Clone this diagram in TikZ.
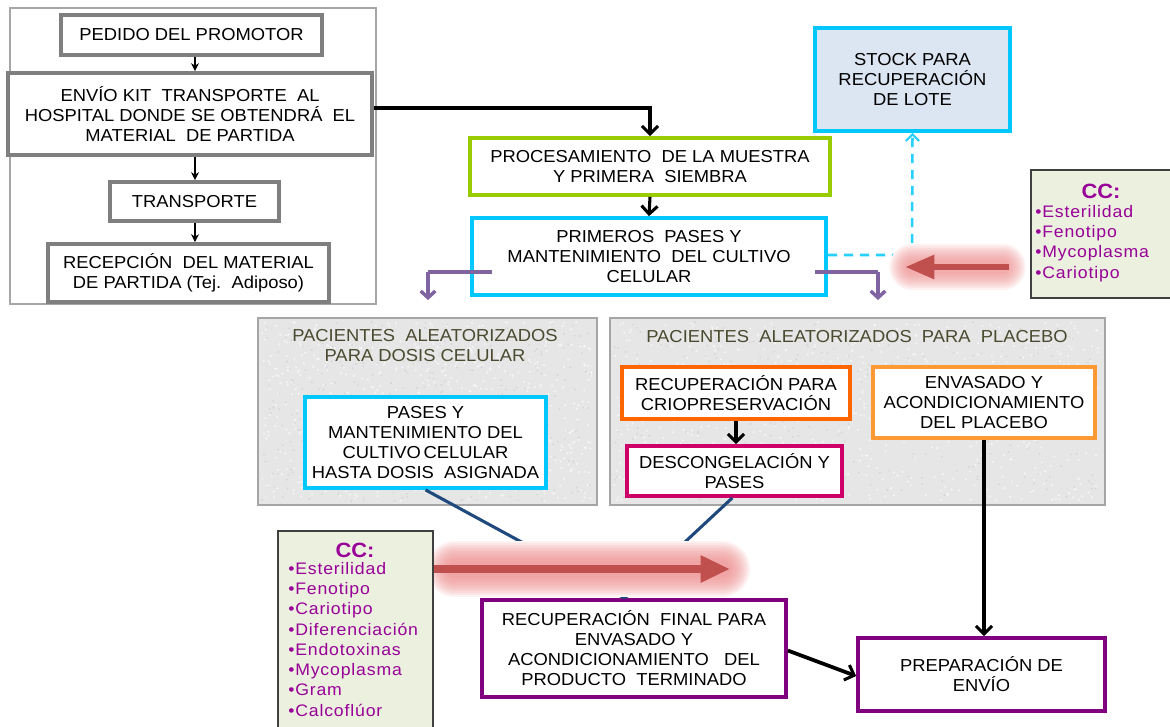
\documentclass[tikz,border=0pt]{standalone}
\usepackage{fontspec}
\setmainfont{Liberation Sans}[FakeStretch=1.06]
\usetikzlibrary{arrows.meta,calc}
\definecolor{boxgray}{HTML}{7F7F7F}
\definecolor{framegray}{HTML}{A6A6A6}
\definecolor{lgreen}{HTML}{99CC00}
\definecolor{cyanb}{HTML}{00C8FF}
\definecolor{stockfill}{HTML}{DCE6F2}
\definecolor{ccfill}{HTML}{EBF1DE}
\definecolor{ccpurple}{HTML}{990099}
\definecolor{panelfill}{HTML}{E6E6E6}
\definecolor{panelborder}{HTML}{A5A5A5}
\definecolor{titlecol}{HTML}{4A4A30}
\definecolor{orangeb}{HTML}{FF6600}
\definecolor{lorange}{HTML}{FF9933}
\definecolor{magentab}{HTML}{CC0066}
\definecolor{purpleb}{HTML}{800080}
\definecolor{bluel}{HTML}{1F497D}
\definecolor{purplel}{HTML}{8064A2}
\definecolor{redarrow}{HTML}{C0504D}
\definecolor{glowc}{HTML}{F08C8C}
\begin{document}
\begin{tikzpicture}[x=0.75pt,y=-0.75pt,
  every node/.style={font=\fontsize{13}{15}\selectfont, align=center, inner sep=0pt},
  sz/.style 2 args={minimum width=#1*0.75pt, minimum height=#2*0.75pt},
  box/.style={draw, line width=2.8pt, fill=white},
  graybox/.style={box, draw=boxgray},
  panel/.style={draw=panelborder, line width=2.2pt, fill=panelfill},
  ptitle/.style={text=titlecol},
  cctext/.style={text=ccpurple, align=left, font=\fontsize{12.5}{15.2}\selectfont\addfontfeature{LetterSpace=5}},
  cchead/.style={text=ccpurple, font=\fontsize{15.5}{17}\selectfont\bfseries},
  smallarr/.style={line width=1.2pt, -{Stealth[length=6pt,width=6pt]}},
  bigarr/.style={line width=2.3pt, -{Straight Barb[length=6pt,width=12pt,line width=2.3pt]}},
  purparr/.style={draw=purplel, line width=3pt},
  blueline/.style={draw=bluel, line width=2.3pt}
]
\useasboundingbox (0,0) rectangle (1170,726);
\fill[white] (0,0) rectangle (1170,726);

% left frame
\draw[framegray, line width=1.6pt] (10,8) rectangle (376,304);

% panels
\node[panel, sz={339}{187}] (pan1) at (427.5,411.5) {};
\node[panel, sz={495}{187}] (pan2) at (857.5,411.5) {};
\pgfmathsetseed{11}
\foreach \i in {1,...,700}{
  \pgfmathsetmacro\xx{262+331*rnd}
  \pgfmathsetmacro\yy{322+179*rnd}
  \fill[white, opacity=0.6] (\xx,\yy) circle (0.9pt);
  \pgfmathsetmacro\xa{614+487*rnd}
  \pgfmathsetmacro\ya{322+179*rnd}
  \fill[white, opacity=0.6] (\xa,\ya) circle (0.9pt);
}
\foreach \i in {1,...,350}{
  \pgfmathsetmacro\xx{262+331*rnd}
  \pgfmathsetmacro\yy{322+179*rnd}
  \fill[gray, opacity=0.18] (\xx,\yy) circle (0.7pt);
  \pgfmathsetmacro\xa{614+487*rnd}
  \pgfmathsetmacro\ya{322+179*rnd}
  \fill[gray, opacity=0.18] (\xa,\ya) circle (0.7pt);
}
\node[ptitle] (t1) at (425,346) {PACIENTES\ \ ALEATORIZADOS\\PARA DOSIS CELULAR};
\node[ptitle] (t2) at (857,337) {PACIENTES\ \ ALEATORIZADOS\ \ PARA\ \ PLACEBO};

% left column
\node[graybox, sz={261}{40}] (pedido) at (191.5,35) {PEDIDO DEL PROMOTOR};
\node[graybox, sz={364}{82}] (envio) at (190,114) {ENVÍO KIT\ \ TRANSPORTE\ \ AL\\HOSPITAL DONDE SE OBTENDRÁ\ \ EL\\MATERIAL\ \ DE PARTIDA};
\node[graybox, sz={169}{39}] (transp) at (194.5,201.5) {TRANSPORTE};
\node[graybox, sz={281}{58}] (recep) at (188.5,273) {RECEPCIÓN\ \ DEL MATERIAL\\DE PARTIDA (Tej.\ \ Adiposo)};

\draw[smallarr] (pedido.south -| 195,0) -- (envio.north -| 195,0);
\draw[smallarr] (envio.south -| 195,0) -- (transp.north -| 195,0);
\draw[smallarr] (transp.south -| 195,0) -- (recep.north -| 195,0);

% center column
\node[box, draw=lgreen, sz={360}{57}] (proc) at (650,166.5) {PROCESAMIENTO\ \ DE LA MUESTRA\\Y PRIMERA\ \ SIEMBRA};
\node[box, draw=cyanb, sz={354}{77}] (prim) at (649,256.5) {PRIMEROS\ \ PASES Y\\MANTENIMIENTO\ \ DEL CULTIVO\\CELULAR};
\node[box, draw=cyanb, fill=stockfill, sz={195}{103}] (stock) at (912.5,79.5) {STOCK PARA\\RECUPERACIÓN\\DE LOTE};

\draw[bigarr] (envio.east |- 0,108) -- (650,108) -- (proc.north);
\draw[bigarr] (proc.south) -- (prim.north);

% purple split arrows
\coordinate (pl) at (428,300);
\coordinate (pr) at (878,300);
\draw[purparr] (492,272) -- (pl |- 0,272);
\draw[purparr, line width=2.6pt, -{Straight Barb[length=5pt,width=11pt,line width=2.6pt]}] (pl |- 0,272) -- (pl);
\draw[purparr] (815,272) -- (pr |- 0,272);
\draw[purparr, line width=2.6pt, -{Straight Barb[length=5pt,width=11pt,line width=2.6pt]}] (pr |- 0,272) -- (pr);

% dashed to stock
\draw[cyanb!85, line width=1.9pt, dash pattern=on 7pt off 5pt, -{Straight Barb[length=5pt,width=10pt,line width=1.6pt]}] (prim.east |- 0,255) -- (912,255) -- (stock.south);

% lower boxes
\node[box, draw=cyanb, sz={241}{91}] (pases) at (425.5,442.5) {PASES Y\\MANTENIMIENTO DEL\\CULTIVO\,CELULAR\\HASTA DOSIS\ \ ASIGNADA};
\node[box, draw=orangeb, sz={228}{52}] (recup) at (736,393) {RECUPERACIÓN PARA\\CRIOPRESERVACIÓN};
\node[box, draw=magentab, sz={215}{50}] (desc) at (734.5,471) {DESCONGELACIÓN Y\\PASES};
\node[box, draw=lorange, sz={222}{71}] (envas) at (984,402.5) {ENVASADO Y\\ACONDICIONAMIENTO\\DEL PLACEBO};
\node[box, draw=purpleb, sz={304}{97}] (rf) at (634,648.5) {RECUPERACIÓN\ \ FINAL PARA\\ENVASADO Y\\ACONDICIONAMIENTO\ \ \ DEL\\PRODUCTO\ \ TERMINADO};
\node[box, draw=purpleb, sz={247}{73}] (prep) at (981.5,674.5) {PREPARACIÓN DE\\ENVÍO};

\draw[bigarr] (recup.south) -- (recup.south |- desc.north);
\draw[bigarr] (envas.south) -- (envas.south |- prep.north);
\draw[bigarr, line width=2.8pt] ($(rf.north east)!0.52!(rf.south east)$) -- ($(prep.north west)!0.52!(prep.south west)$);

\coordinate (conv) at ($(rf.north west)!0.47!(rf.north east)$);
\draw[blueline] (pases.south) -- (conv);
\draw[blueline] ($(desc.south west)!0.49!(desc.south east)$) -- (conv);

% glow + red arrows (bottom)
\draw[white, line width=42pt, line cap=round] (455,569) -- (722,569);
\foreach \w in {42,39,...,12}{
  \draw[glowc, opacity=0.12, line width=\w pt, line cap=round] (455,569) -- (722,569);
}
\draw[redarrow, line width=6pt, -{Triangle[length=22pt,width=19pt]}] (433,569) -- (730,569);

% glow (top right)
\draw[white, line width=34pt, line cap=round] (912,267) -- (1003,267);
\foreach \w in {34,31,...,10}{
  \draw[glowc, opacity=0.12, line width=\w pt, line cap=round] (912,267) -- (1003,267);
}
\coordinate (rtip) at (905,267);

% CC boxes
\node[draw=black!75, line width=1pt, fill=ccfill, sz={142}{128}] (cc1) at (1102,234) {};
\node[cchead] (cc1h) at (1101,191) {CC:};
\node[cctext, anchor=north west] (cc1t) at (1035,205) {•Esterilidad\\•Fenotipo\\•Mycoplasma\\•Cariotipo};
\draw[redarrow, line width=5pt, -{Triangle[length=22pt,width=17pt]}] (cc1.west |- 0,267) ++(-21,0) -- (rtip);

\node[draw=black!75, line width=1pt, fill=ccfill, sz={155}{200}] (cc2) at (355.5,631) {};
\node[cchead] (cc2h) at (355,550) {CC:};
\node[cctext, anchor=north west] (cc2t) at (288,562) {•Esterilidad\\•Fenotipo\\•Cariotipo\\•Diferenciación\\•Endotoxinas\\•Mycoplasma\\•Gram\\•Calcoflúor};
\end{tikzpicture}
\end{document}
